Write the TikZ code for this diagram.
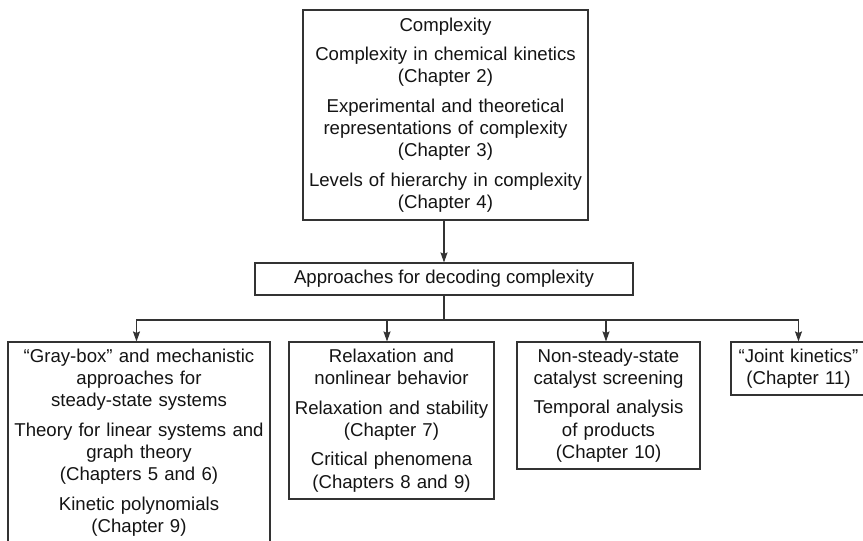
\documentclass[tikz,border=0pt]{standalone}
\usepackage{fontspec}
\setmainfont{Liberation Sans}
\usetikzlibrary{arrows.meta}
\begin{document}
\begin{tikzpicture}[x=1pt,y=1pt,
  line width=1.1pt,
  every node/.style={font=\fontsize{18.6}{22.3}\selectfont, text=black!92},
  box/.style={draw=black!80, inner sep=0pt, align=center, anchor=center},
  arr/.style={draw=black!80, -{Stealth[length=10pt,width=7pt,inset=1.5pt]}},
  con/.style={draw=black!80}]
\clip (0,0) rectangle (863,541);
\fill[white] (0,0) rectangle (863,541);
% top box: x 303-588, y 10-220
\node[box, minimum width=285, minimum height=210, text width=280] (top) at (445.5,426)
 {Complexity\\[7pt]
  Complexity in chemical kinetics\\(Chapter 2)\\[7pt]
  Experimental and theoretical\\representations of complexity\\(Chapter 3)\\[7pt]
  Levels of hierarchy in complexity\\(Chapter 4)};
% middle box: x 255-633, y 263-295
\node[box, minimum width=378, minimum height=32] (mid) at (444,262)
 {Approaches for decoding complexity};
% bottom boxes
\node[box, minimum width=262, minimum height=201, text width=258] (b1) at (139,98.5)
 {``Gray-box'' and mechanistic\\approaches for\\steady-state systems\\[7pt]
  Theory for linear systems and\\graph theory\\(Chapters 5 and 6)\\[7pt]
  Kinetic polynomials\\(Chapter 9)};
\node[box, minimum width=205, minimum height=157, text width=201] (b2) at (391.5,120.5)
 {Relaxation and\\nonlinear behavior\\[7pt]
  Relaxation and stability\\(Chapter 7)\\[7pt]
  Critical phenomena\\(Chapters 8 and 9)};
\node[box, minimum width=183, minimum height=127, text width=179] (b3) at (608.5,135.5)
 {Non-steady-state\\catalyst screening\\[7pt]
  Temporal analysis\\of products\\(Chapter 10)};
\node[box, minimum width=135, minimum height=53, text width=131] (b4) at (798.5,172.5)
 {``Joint kinetics''\\(Chapter 11)};
% connectors
\coordinate (bus) at (444,221);
\draw[arr] (top.south -| mid.north) -- (mid.north);
\draw[con] (mid.south) -- (bus);
\draw[arr] (bus) -| ([xshift=-2.5pt]b1.north);
\draw[arr] (bus) -| ([xshift=-4.5pt]b2.north);
\draw[arr] (bus) -| ([xshift=-2.5pt]b3.north);
\draw[arr] (bus) -| ([xshift=0pt]b4.north);
\end{tikzpicture}
\end{document}
